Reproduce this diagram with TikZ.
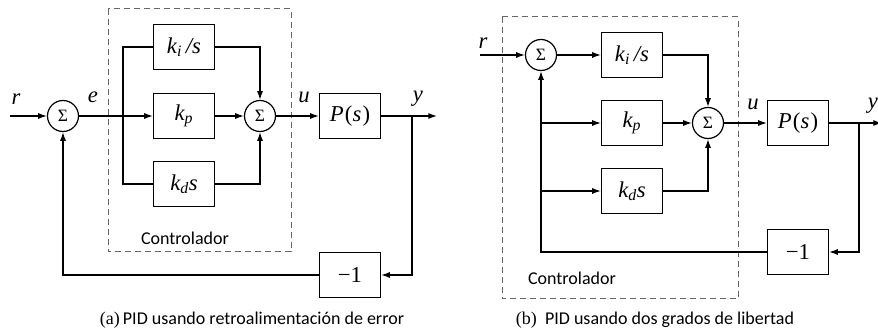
\documentclass[tikz,border=0pt]{standalone}
\usepackage{amsmath}
\usepackage[no-math]{fontspec}
\setmainfont{Carlito}
\newfontfamily\capserif{Liberation Serif}[ItalicFont={Liberation Serif Italic}]
\usepackage{tikz}
\usetikzlibrary{arrows.meta}

\newcommand{\var}[1]{{\capserif\itshape #1}}
\newcommand{\gain}[2]{\var{k}\textsubscript{\var{#1}}#2}

\tikzset{
  blk/.style={draw, minimum width=45.75pt, minimum height=33.75pt, inner sep=0pt, font=\capserif\fontsize{17}{19}\selectfont},
  sumnode/.style={draw, circle, minimum size=23.25pt, inner sep=0pt, font=\capserif\fontsize{13}{14}\selectfont},
  sigtxt/.style={font=\capserif\fontsize{17}{19}\selectfont},
  captxt/.style={font=\fontsize{13.5}{15}\selectfont},
  ctrlbox/.style={draw=black!60, line width=0.75pt, dash pattern=on 4.5pt off 3pt},
  flow/.style={-{Latex[length=6.5pt,width=4.5pt]}},
}

\begin{document}
\begin{tikzpicture}[x=0.75pt, y=-0.75pt, line width=0.9pt]
	\useasboundingbox (0,0) rectangle (878,334);

	\draw[ctrlbox] (108,  9) rectangle (291,252);
	\draw[ctrlbox] (502, 17) rectangle (738,299);

	\coordinate           (inA)  at ( 10,116);
	\node[sumnode]        (sumA) at ( 63,116) {Σ};
	\coordinate           (brA)  at (123,116);
	\node[blk]            (kiA)  at (184, 47) {\gain{i}{\,\var{/s}}};
	\node[blk]            (kpA)  at (184,116) {\gain{p}{}};
	\node[blk]            (kdA)  at (184,184) {\gain{d}{\var{s}}};
	\node[sumnode]        (sumB) at (260,116) {Σ};
	\node[blk]            (PA)   at (350,116) {\var{P}\kern1pt(\var{s}\kern1pt)};
	\coordinate           (ybA)  at (412,116);
	\coordinate           (outA) at (437,116);
	\node[blk]            (negA) at (350,275) {−1};

	\node[sigtxt]         (rA)   at ( 16, 99) {\var{r}};
	\node[sigtxt]         (eA)   at ( 93, 97) {\var{e}};
	\node[sigtxt]         (uA)   at (304, 97) {\var{u}};
	\node[sigtxt]         (yA)   at (418, 99) {\var{y}};
	\node[captxt]         (ctA)  at (185,238) {Controlador};
	\node[captxt]         (capA) at (252,320) {{\capserif(a)}\,PID usando retroalimentación de error};

	\coordinate           (inB)  at (480, 55);
	\node[sumnode]        (sumC) at (541, 55) {Σ};
	\node[blk]            (kiB)  at (632, 55) {\gain{i}{\,\var{/s}}};
	\node[blk]            (kpB)  at (632,123) {\gain{p}{}};
	\node[blk]            (kdB)  at (632,191) {\gain{d}{\var{s}}};
	\node[sumnode]        (sumD) at (708,123) {Σ};
	\node[blk]            (PB)   at (798,123) {\var{P}\kern1pt(\var{s}\kern1pt)};
	\coordinate           (ybB)  at (859,123);
	\coordinate           (outB) at (882,123);
	\node[blk]            (negB) at (798,252) {−1};

	\node[sigtxt]         (rB)   at (483, 43) {\var{r}};
	\node[sigtxt]         (uB)   at (753,104) {\var{u}};
	\node[sigtxt]         (yB)   at (873,106) {\var{y}};
	\node[captxt]         (ctB)  at (572,278) {Controlador};
	\node[captxt]         (capB) at (655,320) {{\capserif(b)}\ \ PID usando dos grados de libertad};

	\draw[flow] (inA)  -- (sumA);
	\draw       (sumA) -- (brA);
	\draw[flow] (brA)  -- (kpA);
	\draw       (brA)  |- (kiA);
	\draw       (brA)  |- (kdA);
	\draw[flow] (kiA)  -| (sumB);
	\draw[flow] (kpA)  -- (sumB);
	\draw[flow] (kdA)  -| (sumB);
	\draw[flow] (sumB) -- (PA);
	\draw[flow] (PA)   -- (outA);
	\draw[flow] (ybA)  |- (negA);
	\draw[flow] (negA) -| (sumA);

	\draw[flow] (inB)  -- (sumC);
	\draw[flow] (sumC) -- (kiB);
	\draw[flow] (kiB)  -| (sumD);
	\draw[flow] (kpB)  -- (sumD);
	\draw[flow] (kdB)  -| (sumD);
	\draw[flow] (sumD) -- (PB);
	\draw[flow] (PB)   -- (outB);
	\draw[flow] (ybB)  |- (negB);
	\draw[flow] (negB) -| (sumC);
	\draw[flow] (sumC |- kpB) -- (kpB);
	\draw[flow] (sumC |- kdB) -- (kdB);
\end{tikzpicture}
\end{document}
